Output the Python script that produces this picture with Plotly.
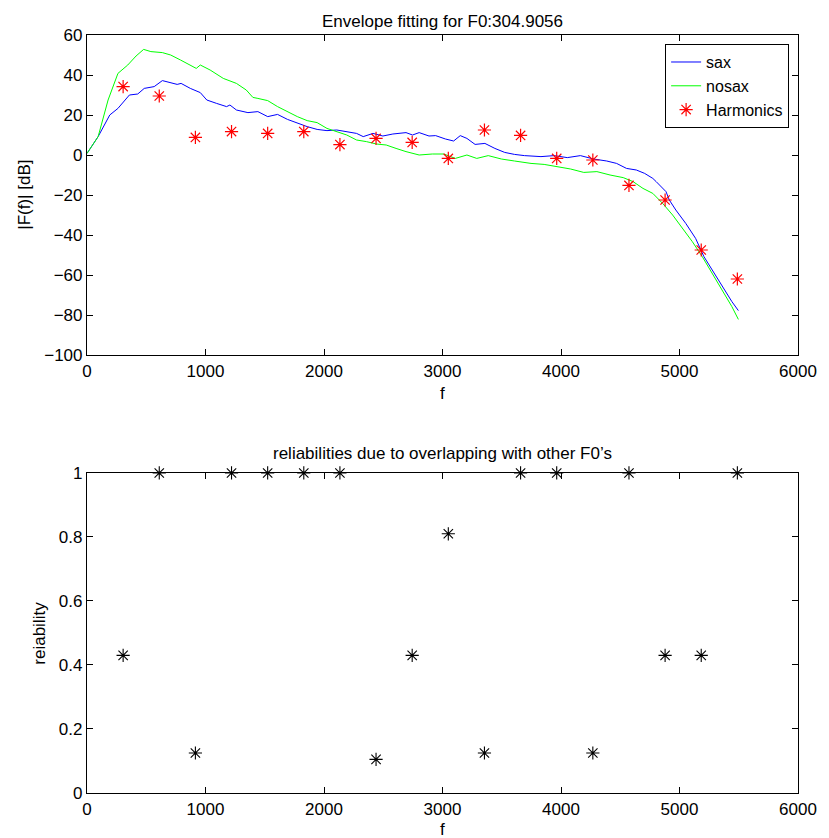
import plotly.graph_objects as go

F0 = 304.9056
harm_idx = list(range(1, 19))
harm_f = [k * F0 for k in harm_idx]

# harmonic amplitudes in dB
harm_db = [34.2, 29.5, 8.8, 11.7, 10.8, 11.7, 5.2, 8.3, 6.3, -1.7,
           12.5, 9.8, -1.7, -2.5, -15.2, -22.5, -47.5, -62.0]

# reliability of each harmonic
reliability = [0.43, 1.0, 0.125, 1.0, 1.0, 1.0, 1.0, 0.105, 0.43, 0.81,
               0.125, 1.0, 1.0, 0.125, 1.0, 0.43, 0.43, 1.0]

# envelope with saxophone
sax_f = [0, 94, 192, 261, 358, 428, 483, 567, 636, 692, 761, 794, 872, 956,
         1011, 1094, 1178, 1206, 1261, 1358, 1442, 1525, 1608, 1692, 1775,
         1858, 1942, 2025, 2108, 2192, 2275, 2331, 2414, 2497, 2581, 2692,
         2747, 2803, 2886, 2942, 3025, 3094, 3150, 3206, 3275, 3358, 3442,
         3525, 3608, 3692, 3831, 3942, 4053, 4164, 4275, 4386, 4469, 4553,
         4636, 4706, 4775, 4803, 4886, 4914, 4969, 5053, 5136, 5206, 5275,
         5358, 5442, 5497]
sax_db = [0.8, 9.2, 20.0, 23.3, 30.0, 30.5, 33.3, 34.2, 37.2, 36.2, 35.3,
          35.8, 33.3, 31.2, 27.5, 25.8, 24.2, 25.0, 22.5, 21.2, 21.7, 19.2,
          20.3, 17.8, 15.8, 14.2, 12.8, 12.2, 12.5, 11.7, 10.8, 9.2, 10.8,
          9.5, 10.5, 11.2, 10.0, 11.2, 9.5, 9.7, 8.0, 7.0, 9.7, 8.3, 5.3,
          5.8, 3.3, 1.3, 0.3, -0.3, -0.8, -0.3, -1.3, -0.3, -2.0, -3.0,
          -4.2, -6.7, -7.5, -9.2, -11.7, -13.3, -18.3, -22.5, -27.5, -34.2,
          -41.7, -50.8, -57.5, -65.8, -73.3, -77.8]

# envelope without saxophone
nosax_f = [0, 94, 178, 261, 344, 414, 478, 539, 636, 706, 789, 922, 956,
           1039, 1150, 1261, 1344, 1400, 1442, 1525, 1608, 1692, 1775, 1858,
           1942, 2025, 2108, 2192, 2275, 2358, 2442, 2525, 2608, 2692, 2803,
           2914, 3011, 3108, 3206, 3289, 3386, 3497, 3608, 3747, 3858, 3969,
           4081, 4192, 4303, 4414, 4525, 4608, 4692, 4775, 4858, 4942, 5025,
           5108, 5192, 5275, 5358, 5442, 5497]
nosax_db = [0.8, 9.2, 27.5, 40.8, 45.0, 49.5, 52.8, 51.7, 51.2, 50.0, 47.5,
            43.3, 45.0, 42.5, 38.3, 35.8, 32.5, 28.8, 28.3, 27.2, 24.2, 21.7,
            19.2, 17.2, 16.2, 13.3, 11.7, 10.0, 7.5, 6.7, 5.5, 5.0, 3.3, 1.7,
            0.0, 0.5, 0.5, -1.7, 0.0, -1.7, -0.3, -2.0, -3.0, -4.2, -4.7,
            -5.8, -7.0, -8.7, -8.3, -10.0, -11.3, -13.3, -16.7, -19.2, -24.2,
            -30.0, -36.7, -43.3, -50.8, -59.2, -67.5, -75.8, -82.2]

x_ticks = [0, 1000, 2000, 3000, 4000, 5000, 6000]
db_ticks = [-100, -80, -60, -40, -20, 0, 20, 40, 60]
rel_ticks = [0, 0.2, 0.4, 0.6, 0.8, 1]

FONT = "Liberation Sans, Arial, Helvetica, sans-serif"
FS = 17

fig = go.Figure()
fig.add_trace(go.Scatter(x=sax_f, y=sax_db, mode="lines", name="sax",
                         line=dict(color="#0000ff", width=1),
                         xaxis="x", yaxis="y"))
fig.add_trace(go.Scatter(x=nosax_f, y=nosax_db, mode="lines", name="nosax",
                         line=dict(color="#00ff00", width=1),
                         xaxis="x", yaxis="y"))
fig.add_trace(go.Scatter(x=harm_f, y=harm_db, mode="markers", name="Harmonics",
                         marker=dict(symbol="asterisk-open", size=11,
                                     color="#ff0000",
                                     line=dict(color="#ff0000", width=1.2)),
                         xaxis="x", yaxis="y"))
fig.add_trace(go.Scatter(x=harm_f, y=reliability, mode="markers",
                         showlegend=False, cliponaxis=False,
                         marker=dict(symbol="asterisk-open", size=11,
                                     color="#000000",
                                     line=dict(color="#000000", width=1.1)),
                         xaxis="x2", yaxis="y2"))

axis_common = dict(showline=True, linecolor="black", linewidth=1.2, mirror="ticks",
                   ticks="inside", ticklen=6, tickcolor="black", tickwidth=1,
                   showgrid=False, zeroline=False,
                   tickfont=dict(family=FONT, size=FS, color="black"))


def note(text, xp, yp, angle=0):
    return dict(text=text, xref="paper", yref="paper", x=xp, y=yp,
                xanchor="center", yanchor="middle", textangle=angle,
                showarrow=False, font=dict(family=FONT, size=FS, color="black"))


fig.update_layout(
    width=829, height=838,
    margin=dict(l=87, r=22, t=35, b=45),
    paper_bgcolor="white", plot_bgcolor="white",
    font=dict(family=FONT, size=FS, color="black"),
    showlegend=True,
    legend=dict(x=0.9875, y=0.988, xanchor="right", yanchor="top",
                bgcolor="white", bordercolor="black", borderwidth=1,
                font=dict(family=FONT, size=16), tracegroupgap=0,
                itemwidth=30),
    xaxis=dict(domain=[0, 1], range=[0, 6000], tickvals=x_ticks, anchor="y",
               **axis_common),
    yaxis=dict(domain=[0.5778, 1], range=[-100, 60], tickvals=db_ticks,
               anchor="x", **axis_common),
    xaxis2=dict(domain=[0, 1], range=[0, 6000], tickvals=x_ticks, anchor="y2",
                **axis_common),
    yaxis2=dict(domain=[0, 0.4222], range=[0, 1], tickvals=rel_ticks,
                anchor="x2", **axis_common),
    annotations=[
        note("Envelope fitting for F0:304.9056", 0.5, 1.0172),
        note("reliabilities due to overlapping with other F0\u2019s", 0.5, 0.4485),
        note("f", 0.5, 0.5277),
        note("f", 0.5, -0.0488),
        note("|F(f)| [dB]", -0.0875, 0.789, -90),
        note("reiability", -0.068, 0.211, -90),
    ],
)

fig.write_html("out.html")
